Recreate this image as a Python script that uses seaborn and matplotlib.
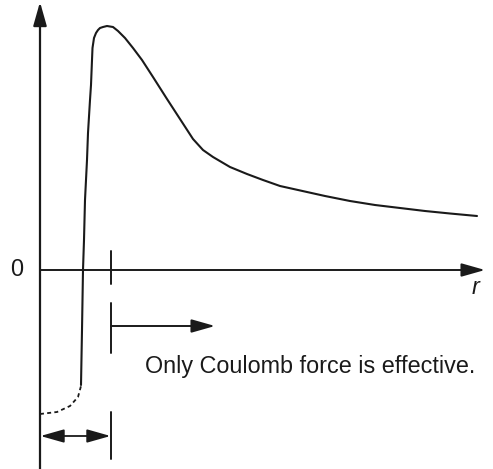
import matplotlib
matplotlib.use('Agg')
import numpy as np
import pandas as pd
import matplotlib.pyplot as plt
import seaborn as sns

# potential curve (r, V in arbitrary units)
r_solid = [0.410, 0.420, 0.430, 0.440, 0.450, 0.470, 0.480, 0.500, 0.510, 0.520,
           0.525, 0.540, 0.560, 0.580, 0.600, 0.630, 0.670, 0.700, 0.730, 0.780,
           0.850, 0.930, 1.020, 1.130, 1.270, 1.400, 1.530, 1.630, 1.730, 1.900,
           2.070, 2.230, 2.400, 2.580, 2.850, 3.100, 3.350, 3.600, 3.850, 4.100, 4.370]
v_solid = [-1.150, -0.600, 0.000, 0.300, 0.700, 1.100, 1.370, 1.700, 1.850, 2.100,
           2.220, 2.320, 2.370, 2.400, 2.420, 2.430, 2.440, 2.435, 2.430, 2.390,
           2.320, 2.220, 2.100, 1.930, 1.710, 1.510, 1.310, 1.200, 1.130, 1.030,
           0.960, 0.900, 0.840, 0.800, 0.740, 0.690, 0.650, 0.620, 0.590, 0.565, 0.540]

r_dashed = [0.00, 0.17, 0.30, 0.38, 0.41]
v_dashed = [-1.44, -1.42, -1.36, -1.27, -1.16]

r_core = 0.71          # range where nuclear force acts
zero_label = '0'
x_label = 'r'
note = 'Only Coulomb force is effective.'

sns.set_style('white')
plt.rcParams['font.family'] = ['Liberation Sans', 'DejaVu Sans']

fig = plt.figure(figsize=(4.93, 4.69), dpi=100)
ax = fig.add_axes([0, 0, 1, 1])
ax.set_xlim(-0.40, 4.53)
ax.set_ylim(-1.99, 2.70)
ax.axis('off')

ink = '#1a1a1a'

solid = pd.DataFrame({'r': r_solid, 'V': v_solid})
dashed = pd.DataFrame({'r': r_dashed, 'V': v_dashed})
sns.lineplot(data=solid, x='r', y='V', color=ink, lw=1.5, estimator=None, sort=False,
             ax=ax, solid_joinstyle='round')
sns.lineplot(data=dashed, x='r', y='V', color=ink, lw=1.3, estimator=None, sort=False,
             ax=ax, linestyle=(0, (2.2, 1.8)))

arrow = dict(arrowstyle='-|>,head_length=0.6,head_width=0.17', mutation_scale=24,
             color=ink, lw=1.6, shrinkA=0, shrinkB=0)
double = dict(arrow, arrowstyle='<|-|>,head_length=0.6,head_width=0.17', lw=1.3)

# axes with arrow heads
ax.annotate('', xy=(0, 2.68), xytext=(0, -1.99), arrowprops=arrow)
ax.annotate('', xy=(4.45, 0), xytext=(0, 0), arrowprops=dict(arrow, lw=1.4))

# range markers
ax.plot([r_core, r_core], [0.19, -0.14], color=ink, lw=1.4)
ax.plot([r_core, r_core], [-0.33, -0.83], color=ink, lw=1.4)
ax.plot([r_core, r_core], [-1.42, -1.89], color=ink, lw=1.4)
ax.annotate('', xy=(1.75, -0.56), xytext=(r_core, -0.56), arrowprops=dict(arrow, lw=1.4))
ax.annotate('', xy=(0.005, -1.66), xytext=(r_core - 0.005, -1.66), arrowprops=double)

ax.text(-0.23, 0, zero_label, fontsize=16.8, color=ink, ha='center', va='center')
ax.text(4.35, -0.18, x_label, fontsize=16.8, color=ink, ha='center', va='center',
        style='italic')
ax.text(1.05, -0.97, note, fontsize=16.8, color=ink, ha='left', va='center')

plt.savefig('out.png', dpi=100)
